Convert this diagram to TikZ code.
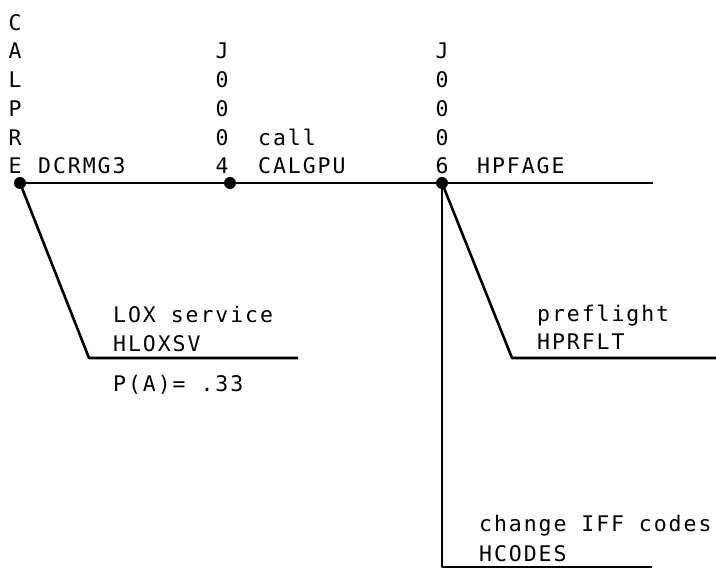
\documentclass[tikz,border=0pt]{standalone}
\usepackage{fontspec}
\newfontfamily\printfont[LetterSpace=9]{DejaVu Sans Mono}
\begin{document}
\begin{tikzpicture}[x=1pt,y=-1pt,
  lbl/.style={font=\printfont\fontsize{21.5}{24}\selectfont, inner sep=0, anchor=base west},
  colch/.style={font=\printfont\fontsize{21.5}{24}\selectfont, inner sep=0, anchor=base},
  ln/.style={line width=2.6pt, line join=round},
  dotnode/.style={circle, fill=black, inner sep=0, minimum size=12pt}]
\useasboundingbox (0,0) rectangle (716,569);
% vertical label columns
\foreach \t [count=\i] in {C,A,L,P,R,E}
  \node[colch] (cal\i) at (15,{30.25+28.75*(\i-1)}) {\t};
\foreach \t [count=\i] in {J,0,0,0,4}
  \node[colch] (ja\i) at (222,{59+28.75*(\i-1)}) {\t};
\foreach \t [count=\i] in {J,0,0,0,6}
  \node[colch] (jb\i) at (442,{59+28.75*(\i-1)}) {\t};
% labels
\node[lbl] (dcrmg) at (38,174) {DCRMG3};
\node[lbl] (call) at (258,145.25) {call};
\node[lbl] (calgpu) at (258,174) {CALGPU};
\node[lbl] (hpfage) at (477,174) {HPFAGE};
\node[lbl] (lox) at (113,323) {LOX service};
\node[lbl] (hloxsv) at (113,352) {HLOXSV};
\node[lbl] (pa) at (113,392) {P(A)= .33};
\node[lbl] (pre) at (537,322) {preflight};
\node[lbl] (hprflt) at (537,350) {HPRFLT};
\node[lbl] (chg) at (479,532) {change IFF codes};
\node[lbl] (hcodes) at (479,562) {HCODES};
% dots
\node[dotnode] (d1) at (20,183) {};
\node[dotnode] (d2) at (230,183) {};
\node[dotnode] (d3) at (442,183) {};
% connector corner points
\coordinate (mainend) at (653,183);
\coordinate (lc) at (89,358);
\coordinate (le) at (298,358);
\coordinate (rc) at (512,358);
\coordinate (re) at (716,358);
\coordinate (vc) at (442,567);
\coordinate (ve) at (652,567);
% connectors
\draw[ln] (d1.center) -- (d2.center) -- (d3.center) -- (mainend);
\draw[ln] (d1.center) -- (lc) -- (le);
\draw[ln] (d3.center) -- (rc) -- (re);
\draw[ln] (d3.center) -- (vc) -- (ve);
\end{tikzpicture}
\end{document}
